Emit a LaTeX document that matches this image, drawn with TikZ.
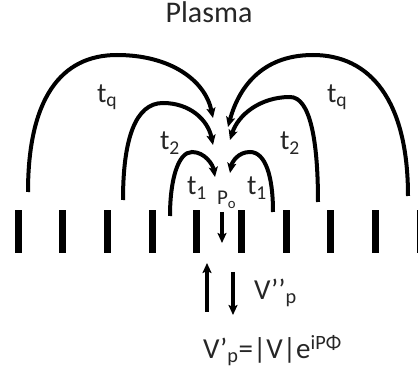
\documentclass[tikz,border=0pt]{standalone}
\usepackage{fontspec}
\setmainfont{Carlito}
\usetikzlibrary{arrows.meta}

\begin{document}
\begin{tikzpicture}[x=1pt,y=-1pt,line width=4pt,
  arc/.style={-{Stealth[length=10pt,width=9pt,inset=2pt]}},
  lbl/.style={anchor=base west,inner sep=0pt,text=black!85,font=\fontsize{28}{30}\selectfont}]
\useasboundingbox (0,0) rectangle (418,374);
\node[lbl,anchor=base,font=\fontsize{30}{34}\selectfont] (plasma) at (209,23) {Plasma};
% electrodes
\foreach \i in {0,...,9}
  \fill (18+44.7*\i-3.5,210) rectangle ++(7,43);
% arc ends
\coordinate (qls) at (28,192);  \coordinate (qle) at (213,118);
\coordinate (qrs) at (408,196); \coordinate (qre) at (228,127);
\coordinate (tls) at (123,200); \coordinate (tle) at (213,145);
\coordinate (trs) at (318,202); \coordinate (tre) at (230,140);
\coordinate (ols) at (170,216); \coordinate (ole) at (215,177);
\coordinate (ors) at (273,212); \coordinate (ore) at (230,173);
\draw[arc] (qls) .. controls (28,100) and (60,55) .. (117,55) .. controls (170,55) and (205,80) .. (qle);
\draw[arc] (qrs) .. controls (408,100) and (370,55) .. (313,55) .. controls (260,55) and (238,90) .. (qre);
\draw[arc] (tls) .. controls (123,140) and (135,103) .. (163,103) .. controls (190,103) and (208,120) .. (tle);
\draw[arc] (trs) .. controls (318,140) and (310,97) .. (290,97) .. controls (260,97) and (238,115) .. (tre);
\draw[arc] (ols) .. controls (170,180) and (178,152) .. (192,152) .. controls (205,152) and (213,165) .. (ole);
\draw[arc] (ors) .. controls (273,175) and (265,152) .. (250,152) .. controls (238,152) and (232,162) .. (ore);
% labels
\node[lbl] (tql) at (95,103) {t\textsubscript{q}};
\node[lbl] (tqr) at (325,103) {t\textsubscript{q}};
\node[lbl] (t2l) at (158,150) {t\textsubscript{2}};
\node[lbl] (t2r) at (278,150) {t\textsubscript{2}};
\node[lbl] (t1l) at (185,195) {t\textsubscript{1}};
\node[lbl] (t1r) at (245,195) {t\textsubscript{1}};
\node[lbl,font=\fontsize{21}{24}\selectfont] (po) at (215,205) {P\textsubscript{o}};
\node[lbl,font=\fontsize{29}{33}\selectfont] (vpp) at (252,300) {V’’\textsubscript{p}};
\node[lbl,font=\fontsize{29}{33}\selectfont] (vp) at (201,359) {V’\textsubscript{p}=|V|e\textsuperscript{iPΦ}};
% feed arrows
\coordinate (pa) at (222,212); \coordinate (pb) at (222,243);
\coordinate (ua) at (207,312); \coordinate (ub) at (207,263);
\coordinate (da) at (233,272); \coordinate (db) at (233,315);
\draw[arc] (pa) -- (pb);
\draw[arc] (ua) -- (ub);
\draw[arc] (da) -- (db);
\end{tikzpicture}
\end{document}
